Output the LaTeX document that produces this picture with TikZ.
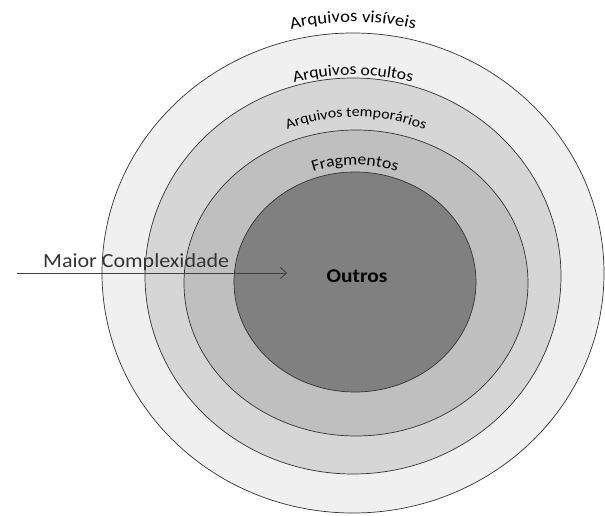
\documentclass[tikz,border=0pt]{standalone}
\usepackage{fontspec}
\setmainfont{Carlito}
\newfontfamily\largo[FakeStretch=1.1]{Carlito}
\usetikzlibrary{shapes.geometric,decorations.text,arrows.meta}

\begin{document}
\begin{tikzpicture}[x=1pt,y=1pt,
	ring/.style={ellipse, draw=black!80, line width=0.7pt, inner sep=0pt},
	arctext/.style={decorate, decoration={text along path, text align=center, text={#1}}}]
	\useasboundingbox (0,0) rectangle (605,515);
	\node[ring, fill=black!6, minimum width=502pt, minimum height=480pt] (visiveis) at (353,242) {};
	\node[ring, fill=black!16, minimum width=416pt, minimum height=396pt] (ocultos) at (353,239) {};
	\node[ring, fill=black!25, minimum width=344pt, minimum height=306pt] (temporarios) at (356,232) {};
	\node[ring, fill=black!50, minimum width=242pt, minimum height=220pt] (fragmentos) at (355,233) {};
	\path[arctext={|\largo\fontsize{17}{17}\selectfont|Arquivos visíveis}] (visiveis.center) ++(150:262 and 251) arc[start angle=150, end angle=30, x radius=262, y radius=251];
	\path[arctext={|\largo\fontsize{16}{16}\selectfont|Arquivos ocultos}] (ocultos.center) ++(150:215 and 201) arc[start angle=150, end angle=30, x radius=215, y radius=201];
	\path[arctext={|\largo\fontsize{14.5}{14.5}\selectfont|Arquivos temporários}] (temporarios.center) ++(150:178 and 166) arc[start angle=150, end angle=30, x radius=178, y radius=166];
	\path[arctext={|\largo\fontsize{16}{16}\selectfont|Fragmentos}] (fragmentos.center) ++(150:127 and 117) arc[start angle=150, end angle=30, x radius=127, y radius=117];
	\coordinate (inicio) at (17,242);
	\coordinate (fim) at (287,242);
	\draw[-{Straight Barb[length=6pt,width=11pt]}, line width=0.8pt, black!75] (inicio) -- (fim);
	\node[anchor=base west, inner sep=0pt, text=black!80, font=\largo\fontsize{20}{20}\selectfont] (maior) at (43,248) {Maior Complexidade};
	\node[font=\largo\bfseries\fontsize{19.5}{19.5}\selectfont] (outros) at (357,239) {Outros};
\end{tikzpicture}
\end{document}
